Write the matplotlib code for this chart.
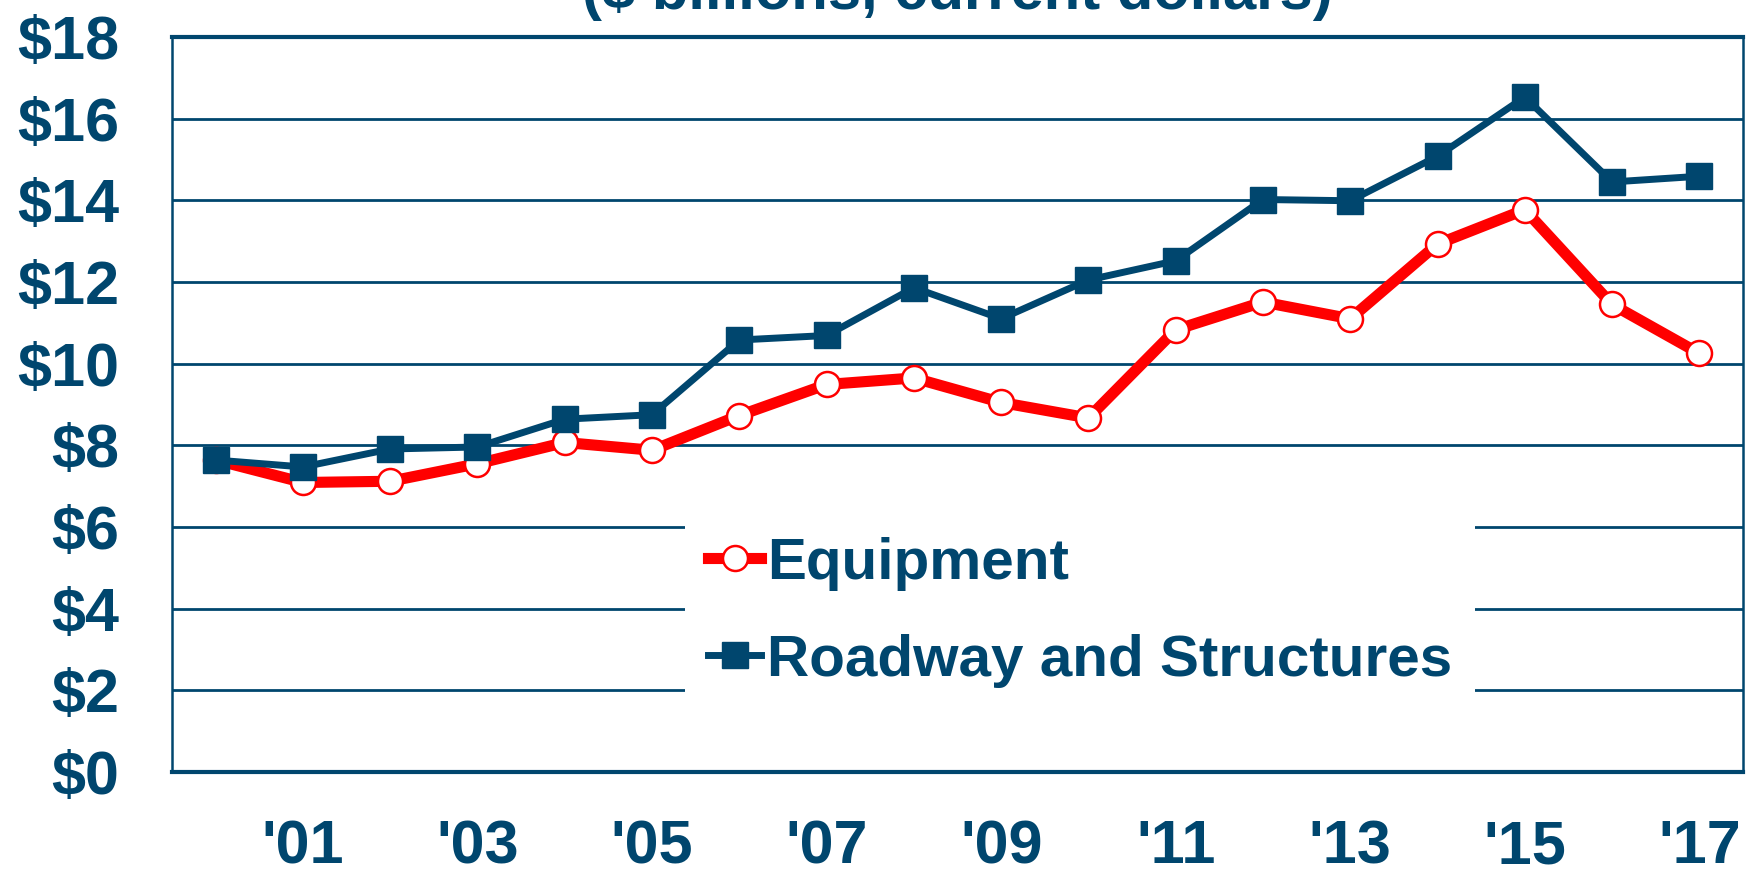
import matplotlib.pyplot as plt

years = list(range(2000, 2018))
equipment = [7.64, 7.09, 7.12, 7.55, 8.07, 7.88, 8.73, 9.49, 9.65, 9.05,
             8.67, 10.83, 11.51, 11.10, 12.93, 13.77, 11.45, 10.25]
roadway = [7.64, 7.47, 7.91, 7.96, 8.64, 8.75, 10.58, 10.69, 11.86, 11.10,
           12.05, 12.52, 14.02, 13.99, 15.08, 16.53, 14.45, 14.59]
xtick_years = [2001, 2003, 2005, 2007, 2009, 2011, 2013, 2015, 2017]
xtick_labels = ["'01", "'03", "'05", "'07", "'09", "'11", "'13", "'15", "'17"]
ytick_vals = list(range(0, 19, 2))
ytick_labels = ['$' + str(v) for v in ytick_vals]

navy = '#00466e'
red = '#ff0000'

plt.rcParams['font.family'] = ['Liberation Sans', 'DejaVu Sans']
plt.rcParams['font.weight'] = 'bold'

fig = plt.figure(figsize=(17.46, 8.73), dpi=100)
ax = fig.add_axes([172 / 1746, 1 - 772 / 873, (1743 - 172) / 1746, (772 - 37) / 873])

for v in ytick_vals[1:-1]:
    ax.axhline(v, color=navy, lw=2.0, zorder=1)

ax.plot(years, equipment, color=red, lw=8, marker='o', ms=18,
        mfc='white', mec=red, mew=1.8, label='Equipment', zorder=3)
ax.plot(years, roadway, color=navy, lw=5, marker='s', ms=19,
        mfc=navy, mec=navy, label='Roadway and Structures', zorder=4)

ax.set_xlim(1999.5, 2017.5)
ax.set_ylim(0, 18)
ax.set_xticks(xtick_years)
ax.set_xticklabels(xtick_labels)
ax.set_yticks(ytick_vals)
ax.set_yticklabels(ytick_labels)
ax.tick_params(length=0, labelsize=44, labelcolor=navy)
ax.tick_params(axis='x', pad=34)
ax.tick_params(axis='y', pad=38)

for side in ['left', 'right']:
    ax.spines[side].set_color(navy)
    ax.spines[side].set_linewidth(1.8)
for side in ['top', 'bottom']:
    ax.spines[side].set_color(navy)
    ax.spines[side].set_linewidth(3)

ax.set_title('($ billions, current dollars)', fontsize=43, color=navy,
             fontweight='bold', pad=20)

leg = ax.legend(loc='lower left', bbox_to_anchor=(0.308, 0.043), frameon=True,
                fontsize=42, handlelength=0.9, handletextpad=0.1,
                labelspacing=0.74, borderpad=0.4, framealpha=1)
leg.get_frame().set_edgecolor('white')
leg.get_frame().set_linewidth(0)
for t in leg.get_texts():
    t.set_color(navy)
leg.set_zorder(5)

fig.savefig('out.png', dpi=100)
